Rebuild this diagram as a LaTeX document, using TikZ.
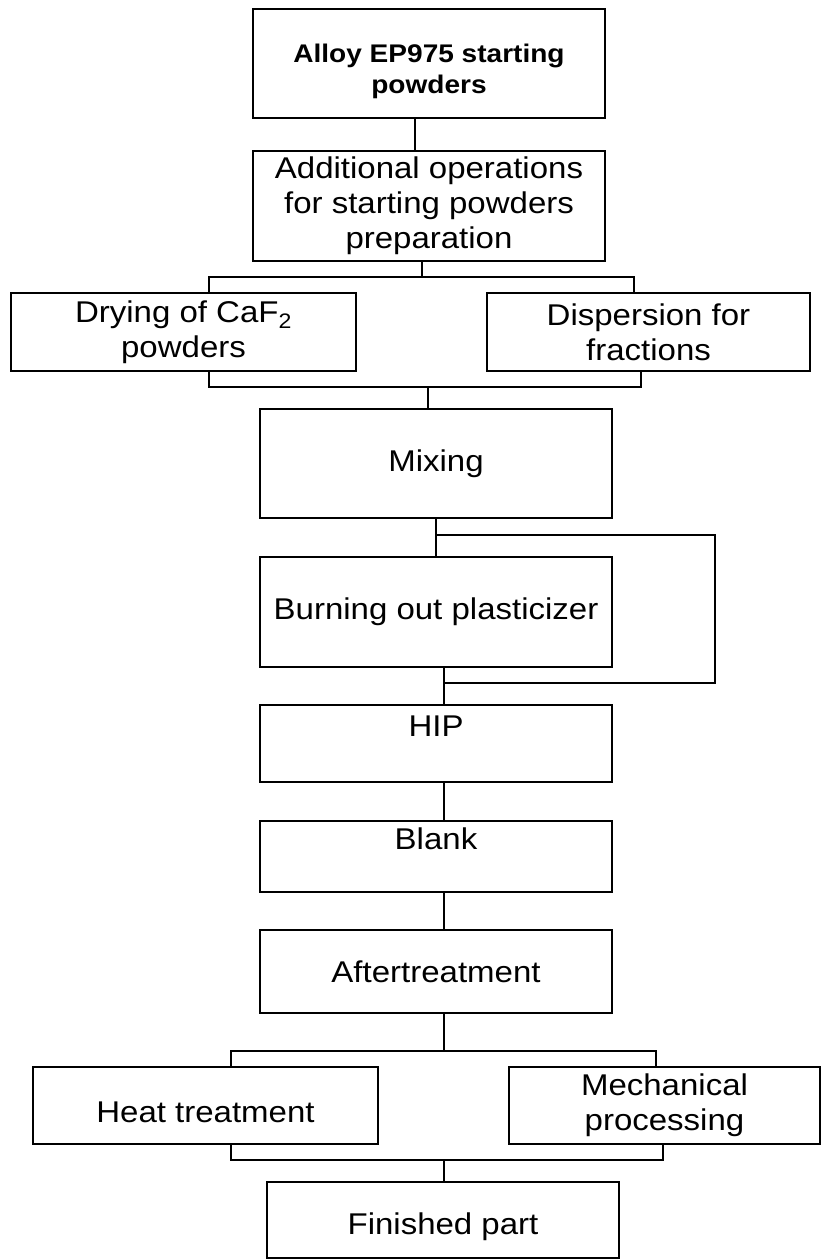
\documentclass[tikz,border=0pt]{standalone}
\usepackage{fontspec}
\setmainfont{Liberation Sans}[FakeStretch=1.1]
\newcommand\pushdown[2]{\rule{0pt}{\dimexpr #1pt+#2pt\relax}}
\begin{document}
\begin{tikzpicture}[x=1pt,y=-1pt,line width=1.4pt,
  box/.style={draw,inner sep=0pt,align=center,font=\fontsize{30}{35}\selectfont},
  titlebox/.style={box,font=\bfseries\fontsize{25.5}{31}\selectfont}]
\useasboundingbox (0,0) rectangle (821,1260);
\node[titlebox,minimum width=352pt,minimum height=109pt] (b1) at (429,63.5) {\pushdown{19}{16}Alloy EP975 starting\\powders};
\node[box,minimum width=352pt,minimum height=110pt] (b2) at (429,206) {Additional operations\\for starting powders\\preparation};
\node[box,minimum width=345pt,minimum height=78pt] (b3) at (183.5,332) {Drying of CaF\textsubscript{2}\\powders};
\node[box,minimum width=323pt,minimum height=78pt] (b4) at (648.5,332) {Dispersion for\\fractions};
\node[box,minimum width=352pt,minimum height=109pt] (b5) at (436,463.5) {Mixing};
\node[box,minimum width=352pt,minimum height=110pt] (b6) at (436,612) {Burning out plasticizer};
\node[box,minimum width=352pt,minimum height=77pt] (b7) at (436,743.5) {HIP\\\phantom{H}};
\node[box,minimum width=352pt,minimum height=71pt] (b8) at (436,856.5) {Blank\\\phantom{H}};
\node[box,minimum width=352pt,minimum height=83pt] (b9) at (436,971.5) {Aftertreatment};
\node[box,minimum width=345pt,minimum height=77pt] (b10) at (205.5,1105.5) {\pushdown{22}{12}Heat treatment};
\node[box,minimum width=311pt,minimum height=77pt] (b11) at (664.5,1105.5) {Mechanical\\processing};
\node[box,minimum width=352pt,minimum height=76pt] (b12) at (443,1220) {\pushdown{22}{14}Finished part};
% connectors
\draw ([xshift=-14pt]b1.south) -- ([xshift=-14pt]b2.north);
\coordinate (t1) at (422,277);
\draw ([xshift=-7pt]b2.south) -- (t1);
\draw ([xshift=25.5pt]b3.north) |- (t1) -| ([xshift=-14.5pt]b4.north);
\coordinate (t2) at (428,387);
\draw ([xshift=25.5pt]b3.south) |- (t2) -| ([xshift=-7.5pt]b4.south);
\draw (t2) -- ([xshift=-8pt]b5.north);
\draw (b5.south) -- (b6.north);
\coordinate (r0) at (436,535);
\coordinate (r1) at (715,535);
\coordinate (r2) at (715,683);
\coordinate (r3) at (444,683);
\draw (r0) -- (r1) -- (r2) -- (r3);
\draw ([xshift=8pt]b6.south) -- ([xshift=8pt]b7.north);
\draw ([xshift=8pt]b7.south) -- ([xshift=8pt]b8.north);
\draw ([xshift=8pt]b8.south) -- ([xshift=8pt]b9.north);
\coordinate (t3) at (444,1051);
\draw ([xshift=8pt]b9.south) -- (t3);
\draw ([xshift=25.5pt]b10.north) |- (t3) -| ([xshift=-8.5pt]b11.north);
\coordinate (t4) at (444,1160);
\draw ([xshift=25.5pt]b10.south) |- (t4) -| ([xshift=-1.5pt]b11.south);
\draw (t4) -- ([xshift=1pt]b12.north);
\end{tikzpicture}
\end{document}
